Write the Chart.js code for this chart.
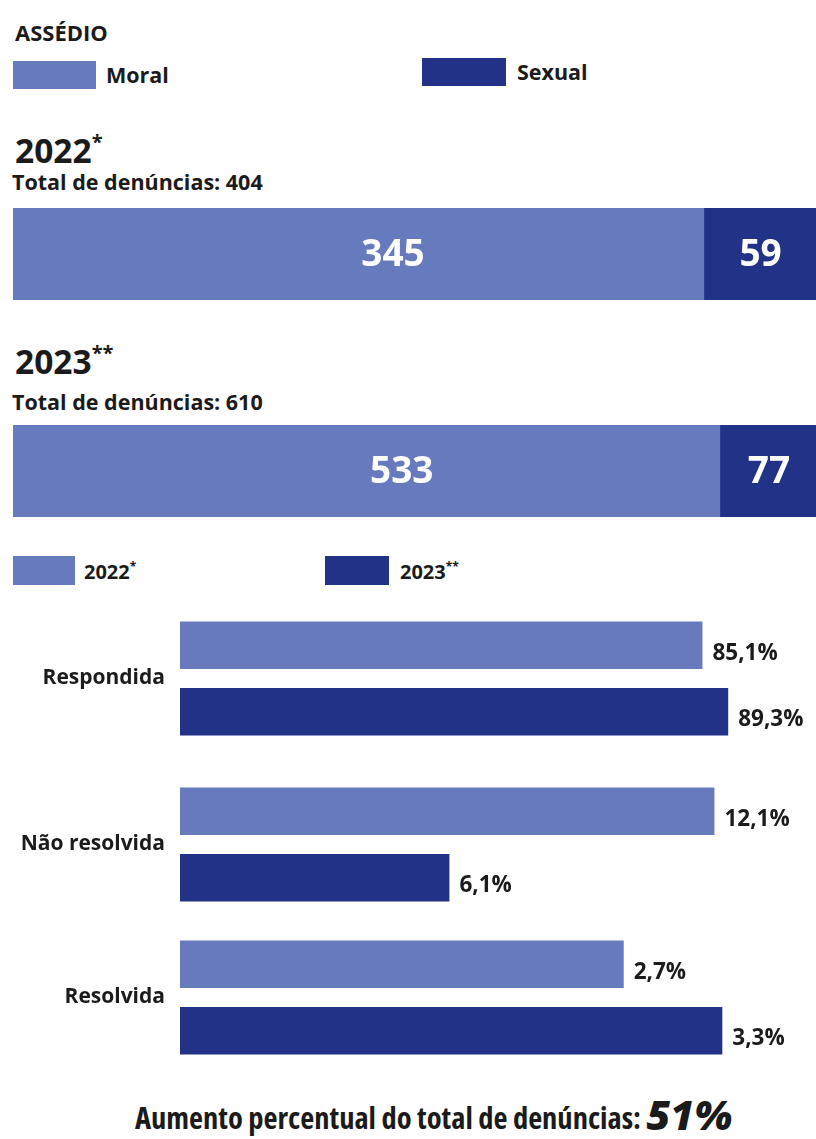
<!DOCTYPE html>
<html>
<head>
<meta charset="utf-8">
<script src="https://cdn.jsdelivr.net/npm/chart.js@4.4.0/dist/chart.umd.min.js"></script>
<style>
  body { margin:0; width:816px; height:1139px; overflow:hidden; background:#fff; position:relative;
         font-family:"Open Sans", "Noto Sans", sans-serif; color:#1b1b1b; }
  .t { position:absolute; font-weight:700; white-space:nowrap; line-height:1; }
  .t sup { font-size:0.6em; vertical-align:0.7em; font-weight:700; line-height:0; }
  .sw { position:absolute; }
  canvas { position:absolute; }
</style>
</head>
<body>

<div class="t" style="left:15px;top:21px;font-size:22px">ASSÉDIO</div>
<div class="sw" style="left:13px;top:61px;width:83px;height:28px;background:#677abe"></div>
<div class="t" style="left:106px;top:64px;font-size:21.5px">Moral</div>
<div class="sw" style="left:422px;top:58px;width:84px;height:28px;background:#213287"></div>
<div class="t" style="left:517px;top:61px;font-size:21.5px">Sexual</div>

<div class="t" id="h22" style="left:15px;top:134px;font-size:33.5px"></div>
<div class="t" id="tot22" style="left:12px;top:171px;font-size:21.5px"></div>
<canvas id="c22" width="809" height="92" style="left:13px;top:208px"></canvas>

<div class="t" id="h23" style="left:15px;top:345px;font-size:33.5px"></div>
<div class="t" id="tot23" style="left:12px;top:391px;font-size:21.5px"></div>
<canvas id="c23" width="809" height="92" style="left:13px;top:425px"></canvas>

<div class="sw" style="left:13px;top:556px;width:62px;height:29px;background:#677abe"></div>
<div class="t" id="lg22" style="left:84px;top:562px;font-size:20px"></div>
<div class="sw" style="left:325px;top:556px;width:64px;height:29px;background:#213287"></div>
<div class="t" id="lg23" style="left:400px;top:562px;font-size:20px"></div>

<canvas id="g0" width="816" height="133" style="left:0;top:612px"></canvas>
<canvas id="g1" width="816" height="133" style="left:0;top:778px"></canvas>
<canvas id="g2" width="816" height="133" style="left:0;top:931px"></canvas>

<div class="t" id="foot" style="left:135px;top:1094px;font-size:30.5px;font-stretch:semi-condensed"></div>

<script>
// dados
var years = ['2022', '2023'];
var yearMarks = ['*', '**'];
var moral = [345, 533];
var sexual = [59, 77];

var groups = ['Respondida', 'Não resolvida', 'Resolvida'];
var pct2022 = [85.1, 12.1, 2.7];
var pct2023 = [89.3, 6.1, 3.3];
// cada grupo tem a sua propria escala no original
var axisMax = [103.6, 14.4, 3.87];

var LIGHT = '#677abe';
var DARK = '#213287';
var FONT = '"Open Sans", "Noto Sans", sans-serif';

var totals = moral.map(function (m, i) { return m + sexual[i]; });

// textos
document.getElementById('h22').innerHTML = years[0] + '<sup>' + yearMarks[0] + '</sup>';
document.getElementById('h23').innerHTML = years[1] + '<sup>' + yearMarks[1] + '</sup>';
document.getElementById('tot22').textContent = 'Total de denúncias: ' + totals[0];
document.getElementById('tot23').textContent = 'Total de denúncias: ' + totals[1];
document.getElementById('lg22').innerHTML = years[0] + '<sup>' + yearMarks[0] + '</sup>';
document.getElementById('lg23').innerHTML = years[1] + '<sup>' + yearMarks[1] + '</sup>';
var aumento = Math.round((totals[1] - totals[0]) / totals[0] * 100);
document.getElementById('foot').innerHTML = 'Aumento percentual do total de denúncias: ' +
  '<span style="font-style:italic;font-weight:800;font-size:41px;font-stretch:normal;vertical-align:-1px">' + aumento + '%</span>';

// rotulos brancos dentro das barras empilhadas
var stackLabels = {
  id: 'stackLabels',
  afterDatasetsDraw: function (chart) {
    var ctx = chart.ctx;
    ctx.save();
    ctx.fillStyle = '#fff';
    ctx.font = 'bold 37px ' + FONT;
    ctx.textAlign = 'center';
    ctx.textBaseline = 'middle';
    chart.data.datasets.forEach(function (ds, di) {
      chart.getDatasetMeta(di).data.forEach(function (el, j) {
        var p = el.getProps(['x', 'y', 'base'], true);
        var frac = di === 0 ? 0.55 : 0.48;
        ctx.fillText(ds.data[j], p.base + (p.x - p.base) * frac, p.y + 1);
      });
    });
    ctx.restore();
  }
};

function stackChart(id, i) {
  new Chart(document.getElementById(id), {
    type: 'bar',
    data: {
      labels: [years[i]],
      datasets: [
        { label: 'Moral', data: [moral[i]], backgroundColor: LIGHT },
        { label: 'Sexual', data: [sexual[i]], backgroundColor: DARK }
      ]
    },
    options: {
      indexAxis: 'y',
      responsive: false,
      animation: false,
      layout: { padding: 0 },
      datasets: { bar: { barPercentage: 1, categoryPercentage: 1 } },
      plugins: { legend: { display: false }, tooltip: { enabled: false } },
      scales: {
        x: { display: false, stacked: true, min: 0, max: totals[i] },
        y: { display: false, stacked: true }
      }
    },
    plugins: [stackLabels]
  });
}
stackChart('c22', 0);
stackChart('c23', 1);

// percentuais ao lado das barras
var valueLabels = {
  id: 'valueLabels',
  afterDatasetsDraw: function (chart) {
    var ctx = chart.ctx;
    ctx.save();
    ctx.fillStyle = '#1b1b1b';
    ctx.font = 'bold 22.5px ' + FONT;
    ctx.textAlign = 'left';
    ctx.textBaseline = 'middle';
    chart.data.datasets.forEach(function (ds, di) {
      chart.getDatasetMeta(di).data.forEach(function (el, j) {
        var p = el.getProps(['x', 'y'], true);
        ctx.fillText(ds.data[j].toFixed(1).replace('.', ',') + '%', p.x + 10, p.y + 8);
      });
    });
    ctx.restore();
  }
};

groups.forEach(function (g, i) {
  new Chart(document.getElementById('g' + i), {
    type: 'bar',
    data: {
      labels: [g],
      datasets: [
        { label: years[0], data: [pct2022[i]], backgroundColor: LIGHT },
        { label: years[1], data: [pct2023[i]], backgroundColor: DARK }
      ]
    },
    options: {
      indexAxis: 'y',
      responsive: false,
      animation: false,
      layout: { padding: 0 },
      datasets: { bar: { barPercentage: 0.714, categoryPercentage: 1 } },
      plugins: { legend: { display: false }, tooltip: { enabled: false } },
      scales: {
        x: { display: false, min: 0, max: axisMax[i] },
        y: {
          grid: { display: false, drawTicks: false },
          border: { display: false },
          ticks: { color: '#1b1b1b', padding: 15, font: { family: FONT, size: 21, weight: 'bold' } },
          afterFit: function (s) { s.width = 180; s.paddingTop = 0; s.paddingBottom = 0; }
        }
      }
    },
    plugins: [valueLabels]
  });
});
</script>
</body>
</html>
